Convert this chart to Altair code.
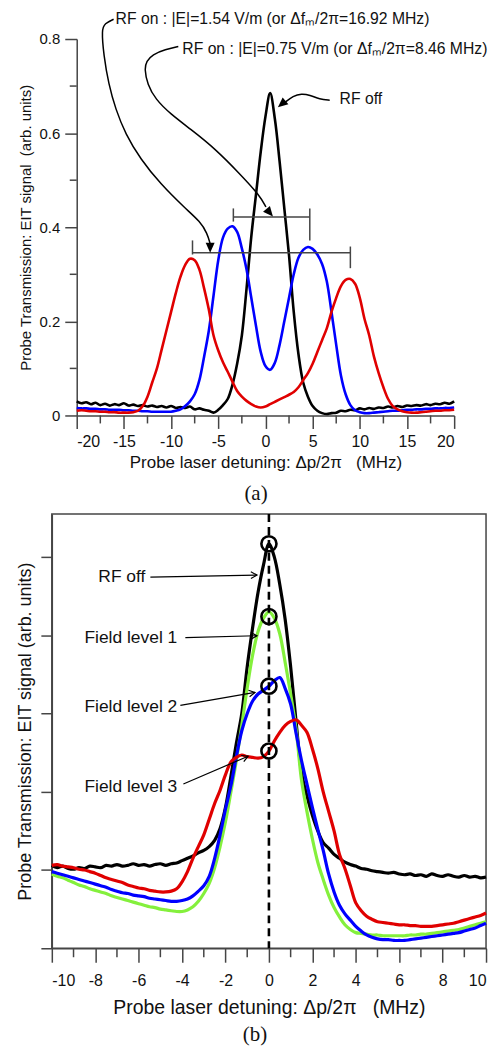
import altair as alt
import pandas as pd

# ---------------- Panel (a) data ----------------
XA = [-20, -19.5, -19, -18.5, -18, -17.5, -17, -16.5, -16, -15.5,
      -15, -14.5, -14, -13.5, -13, -12.5, -12, -11.5, -11, -10.5,
      -10, -9.5, -9, -8.5, -8, -7.5, -7, -6.5, -6, -5.5,
      -5, -4.5, -4, -3.5, -3, -2.5, -2, -1.5, -1, -0.5,
      0, 0.5, 1, 1.5, 2, 2.5, 3, 3.5, 4, 4.5,
      5, 5.5, 6, 6.5, 7, 7.5, 8, 8.5, 9, 9.5,
      10, 10.5, 11, 11.5, 12, 12.5, 13, 13.5, 14, 14.5,
      15, 15.5, 16, 16.5, 17, 17.5, 18, 18.5, 19, 19.5,
      20]

A_RF_OFF = [0.030, 0.026, 0.028, 0.024, 0.027, 0.022, 0.025, 0.021, 0.024, 0.022,
            0.026, 0.021, 0.023, 0.020, 0.022, 0.019, 0.021, 0.018, 0.020, 0.017,
            0.020, 0.016, 0.018, 0.016, 0.019, 0.013, 0.015, 0.012, 0.010, 0.006,
            0.012, 0.022, 0.035, 0.065, 0.110, 0.170, 0.270, 0.380, 0.470, 0.560,
            0.635, 0.685, 0.630, 0.540, 0.440, 0.340, 0.220, 0.130, 0.070, 0.040,
            0.020, 0.010, 0.005, 0.003, 0.005, 0.006, 0.010, 0.009, 0.012, 0.011,
            0.015, 0.013, 0.016, 0.014, 0.017, 0.016, 0.019, 0.017, 0.020, 0.018,
            0.021, 0.020, 0.022, 0.021, 0.024, 0.022, 0.025, 0.024, 0.027, 0.025,
            0.030]

A_E075 = [0.016, 0.015, 0.015, 0.014, 0.014, 0.013, 0.013, 0.012, 0.012, 0.012,
          0.011, 0.011, 0.010, 0.010, 0.009, 0.009, 0.008, 0.008, 0.008, 0.008,
          0.008, 0.010, 0.013, 0.020, 0.030, 0.045, 0.075, 0.125, 0.180, 0.255,
          0.330, 0.378, 0.397, 0.402, 0.390, 0.355, 0.310, 0.250, 0.190, 0.135,
          0.105, 0.097, 0.112, 0.150, 0.200, 0.250, 0.300, 0.335, 0.352, 0.358,
          0.354, 0.342, 0.322, 0.285, 0.220, 0.150, 0.085, 0.045, 0.022, 0.011,
          0.007, 0.005, 0.005, 0.006, 0.007, 0.008, 0.009, 0.010, 0.010, 0.011,
          0.012, 0.012, 0.013, 0.013, 0.014, 0.014, 0.015, 0.015, 0.016, 0.016,
          0.017]

A_E154 = [0.010, 0.011, 0.010, 0.009, 0.009, 0.008, 0.008, 0.007, 0.007, 0.006,
          0.006, 0.006, 0.007, 0.010, 0.020, 0.040, 0.070, 0.100, 0.140, 0.180,
          0.220, 0.260, 0.295, 0.320, 0.333, 0.330, 0.310, 0.270, 0.225, 0.170,
          0.138, 0.113, 0.093, 0.072, 0.052, 0.040, 0.031, 0.024, 0.019, 0.017,
          0.019, 0.024, 0.029, 0.034, 0.039, 0.044, 0.050, 0.060, 0.075, 0.090,
          0.110, 0.135, 0.160, 0.185, 0.220, 0.250, 0.275, 0.288, 0.290, 0.280,
          0.250, 0.205, 0.170, 0.125, 0.090, 0.060, 0.035, 0.020, 0.013, 0.009,
          0.007, 0.006, 0.006, 0.007, 0.008, 0.009, 0.010, 0.010, 0.011, 0.011,
          0.012]

A_XTICKS = [-20, -15, -10, -5, 0, 5, 10, 15, 20]
A_XMINOR = [-17.5, -12.5, -7.5, -2.5, 2.5, 7.5, 12.5, 17.5]
A_YTICKS = [0, 0.2, 0.4, 0.6, 0.8]
A_YMINOR = [0.1, 0.3, 0.5, 0.7]

# annotations of panel (a)
A_TEXTS = ["RF on : |E|=1.54 V/m (or \u0394f\u2098/2\u03c0=16.92 MHz)",
           "RF on : |E|=0.75 V/m (or \u0394f\u2098/2\u03c0=8.46 MHz)",
           "RF off"]
A_TEXT_X = [-15.88, -8.81, 7.86]
A_TEXT_Y = [0.842, 0.778, 0.672]

ARROW1_X = [-16.09, -17.04, -17.36, -17.15, -16.62, -15.88, -14.83, -13.25, -11.13, -8.50, -6.91, -6.17, -5.86]
ARROW1_Y = [0.842, 0.833, 0.820, 0.767, 0.704, 0.651, 0.598, 0.545, 0.492, 0.440, 0.412, 0.387, 0.365]
ARROW2_X = [-9.235, -10.61, -11.98, -12.61, -12.82, -12.51, -11.66, -10.08, -7.97, -5.33, -2.69, -0.58, 0.05]
ARROW2_Y = [0.784, 0.778, 0.767, 0.753, 0.736, 0.704, 0.672, 0.641, 0.609, 0.567, 0.513, 0.467, 0.443]
ARROW3_X = [6.81, 5.75, 4.70, 3.82, 2.93, 2.06]
ARROW3_Y = [0.670, 0.672, 0.681, 0.684, 0.679, 0.665]
A_HEAD_X = [-5.86, 0.79, 1.32]
A_HEAD_Y = [0.346, 0.423, 0.655]
A_HEAD_ANGLE = [90, 50, 140]

BRACKET_H_X1 = [-3.4, -7.73]
BRACKET_H_X2 = [4.7, 9.0]
BRACKET_H_Y = [0.422, 0.346]
BRACKET_V_X = [-3.4, 4.7, -7.73, 9.0]
BRACKET_V_Y1 = [0.440, 0.440, 0.372, 0.359]
BRACKET_V_Y2 = [0.412, 0.372, 0.342, 0.313]

# ---------------- Panel (b) data ----------------
XB = [-10, -9.75, -9.5, -9.25, -9, -8.75, -8.5, -8.25,
      -8, -7.75, -7.5, -7.25, -7, -6.75, -6.5, -6.25,
      -6, -5.75, -5.5, -5.25, -5, -4.75, -4.5, -4.25,
      -4, -3.75, -3.5, -3.25, -3, -2.75, -2.5, -2.25,
      -2, -1.75, -1.5, -1.25, -1, -0.75, -0.5, -0.25,
      0, 0.25, 0.5, 0.75, 1, 1.25, 1.5, 1.75,
      2, 2.25, 2.5, 2.75, 3, 3.25, 3.5, 3.75,
      4, 4.25, 4.5, 4.75, 5, 5.25, 5.5, 5.75,
      6, 6.25, 6.5, 6.75, 7, 7.25, 7.5, 7.75,
      8, 8.25, 8.5, 8.75, 9, 9.25, 9.5, 9.75,
      10]

B_RF_OFF = [1.06, 1.03, 1.05, 1.02, 1.01, 1.03, 1.02, 1.05,
            1.04, 1.03, 1.06, 1.05, 1.07, 1.05, 1.06, 1.08,
            1.06, 1.07, 1.05, 1.07, 1.08, 1.06, 1.08, 1.09,
            1.12, 1.15, 1.18, 1.22, 1.25, 1.30, 1.38, 1.53,
            1.80, 2.20, 2.62, 3.00, 3.60, 4.10, 4.55, 4.90,
            5.17, 5.00, 4.65, 4.20, 3.60, 2.90, 2.25, 1.95,
            1.70, 1.50, 1.35, 1.28, 1.20, 1.15, 1.10, 1.07,
            1.05, 1.02, 1.01, 0.99, 0.98, 0.97, 0.96, 0.97,
            0.95, 0.94, 0.95, 0.93, 0.94, 0.92, 0.95, 0.93,
            0.92, 0.94, 0.92, 0.91, 0.93, 0.91, 0.92, 0.90,
            0.91]

B_LEVEL1 = [0.95, 0.92, 0.90, 0.87, 0.84, 0.81, 0.79, 0.76,
            0.74, 0.72, 0.70, 0.67, 0.65, 0.63, 0.61, 0.59,
            0.57, 0.55, 0.53, 0.52, 0.50, 0.49, 0.48, 0.47,
            0.47, 0.49, 0.53, 0.60, 0.70, 0.83, 1.03, 1.30,
            1.62, 2.00, 2.40, 2.85, 3.33, 3.75, 4.05, 4.22,
            4.30, 4.22, 4.02, 3.65, 3.25, 2.80, 2.15, 1.75,
            1.40, 1.10, 0.88, 0.68, 0.52, 0.40, 0.30, 0.24,
            0.20, 0.19, 0.18, 0.17, 0.17, 0.16, 0.16, 0.16,
            0.16, 0.16, 0.17, 0.17, 0.18, 0.18, 0.19, 0.20,
            0.21, 0.22, 0.23, 0.24, 0.26, 0.28, 0.30, 0.32,
            0.34]

B_LEVEL2 = [0.98, 0.96, 0.94, 0.92, 0.90, 0.88, 0.86, 0.84,
            0.82, 0.80, 0.78, 0.75, 0.73, 0.71, 0.70, 0.68,
            0.67, 0.66, 0.64, 0.63, 0.62, 0.61, 0.60, 0.60,
            0.61, 0.63, 0.67, 0.73, 0.80, 0.92, 1.15, 1.45,
            1.78, 2.08, 2.45, 2.78, 3.00, 3.16, 3.25, 3.30,
            3.35, 3.42, 3.46, 3.32, 3.12, 2.75, 2.40, 2.10,
            1.80, 1.52, 1.25, 0.95, 0.72, 0.55, 0.44, 0.36,
            0.28, 0.22, 0.17, 0.14, 0.12, 0.11, 0.11, 0.10,
            0.10, 0.10, 0.11, 0.12, 0.13, 0.14, 0.15, 0.16,
            0.17, 0.18, 0.19, 0.20, 0.22, 0.24, 0.26, 0.29,
            0.32]

B_LEVEL3 = [1.06, 1.07, 1.05, 1.04, 1.03, 1.01, 1.00, 0.98,
            0.96, 0.93, 0.90, 0.88, 0.86, 0.84, 0.81, 0.79,
            0.77, 0.76, 0.74, 0.73, 0.72, 0.72, 0.73, 0.76,
            0.85, 0.98, 1.15, 1.30, 1.45, 1.65, 1.85, 2.02,
            2.22, 2.38, 2.44, 2.47, 2.45, 2.44, 2.43, 2.45,
            2.52, 2.65, 2.76, 2.85, 2.90, 2.92, 2.85, 2.76,
            2.55, 2.30, 2.00, 1.75, 1.50, 1.20, 1.02, 0.80,
            0.58, 0.48, 0.41, 0.37, 0.34, 0.33, 0.32, 0.31,
            0.30, 0.30, 0.29, 0.29, 0.28, 0.28, 0.28, 0.29,
            0.30, 0.31, 0.32, 0.34, 0.36, 0.38, 0.40, 0.42,
            0.45]

B_XTICKS = [-10, -8, -6, -4, -2, 0, 2, 4, 6, 8, 10]
B_XMINOR = [-9, -7, -5, -3, -1, 1, 3, 5, 7, 9]
B_YTICKS = [0, 1, 2, 3, 4, 5]

B_TEXTS = ["RF off", "Field level 1", "Field level 2", "Field level 3"]
B_TEXT_X = [-5.69, -4.22, -4.22, -4.22]
B_TEXT_Y = [4.745, 3.97, 3.08, 2.06]
B_CIRCLE_Y = [5.17, 4.24, 3.35, 2.52]
B_ARROW_X0 = [-5.46, -3.85, -4.08, -3.94]
B_ARROW_Y0 = [4.745, 3.97, 3.104, 2.10]
B_ARROW_X1 = [-0.55, -0.55, -0.64, -0.96]
B_ARROW_Y1 = [4.77, 3.995, 3.27, 2.455]
B_HEAD_ANGLE = [359, 358, 350, 337]

# ---------------- styling ----------------
W_A, H_A = 404, 378
A_LEFT = 25
W_B, H_B = 436, 436
AX = "#454545"
SANS = "Liberation Sans"
SERIF = "Liberation Serif"
RED = "#e00000"
BLUE = "#0000ff"
GREEN = "#84f03c"
TRI = "M0,0L-1,-0.45L-1,0.45Z"
CHEV = "M-1,-0.55L0,0L-1,0.55"
GAP = "\u00a0\u00a0\u00a0"
XTITLE = "Probe laser detuning: \u0394p/2\u03c0" + GAP + "(MHz)"


def axis_common():
    return dict(grid=False, domainColor=AX, tickColor=AX, domainWidth=1.5, tickWidth=1.5,
                labelColor="#111", titleColor="#111", labelFont=SANS, titleFont=SANS,
                titleFontWeight="normal")


# ---------------- Panel (a) ----------------
xa = alt.X("x:Q", scale=alt.Scale(domain=[-20, 20], range=[A_LEFT, W_A], nice=False, zero=False),
           axis=alt.Axis(values=A_XTICKS, labelExpr="datum.value + ''", labelFontSize=16,
                         title=XTITLE, titleFontSize=17,
                         tickSize=13, labelPadding=5, titlePadding=5, **axis_common()))
ya = alt.Y("y:Q", scale=alt.Scale(domain=[0, 0.8], nice=False, zero=False),
           axis=alt.Axis(values=A_YTICKS, labelExpr="datum.value + ''", offset=-A_LEFT, labelFontSize=15,
                         title="Probe Transmission: EIT signal\u00a0\u00a0(arb. units)", titleFontSize=15,
                         tickSize=12, labelPadding=5, titlePadding=6, **axis_common()))

LINE_A = dict(strokeWidth=2.6, interpolate="catmull-rom")
a_black = alt.Chart(pd.DataFrame({"x": XA, "y": A_RF_OFF})).mark_line(color="black", **LINE_A).encode(x=xa, y=ya)
a_blue = alt.Chart(pd.DataFrame({"x": XA, "y": A_E075})).mark_line(color=BLUE, **LINE_A).encode(x="x:Q", y="y:Q")
a_red = alt.Chart(pd.DataFrame({"x": XA, "y": A_E154})).mark_line(color=RED, **LINE_A).encode(x="x:Q", y="y:Q")

a_minor_x = alt.Chart(pd.DataFrame({"x": A_XMINOR})).mark_rule(color=AX, strokeWidth=1.5).encode(
    x="x:Q", y=alt.value(H_A), y2=alt.value(H_A + 8))
a_minor_y = alt.Chart(pd.DataFrame({"y": A_YMINOR})).mark_rule(color=AX, strokeWidth=1.5).encode(
    y="y:Q", x=alt.value(A_LEFT), x2=alt.value(A_LEFT - 7))

arrows_a = pd.DataFrame({
    "x": ARROW1_X + ARROW2_X + ARROW3_X,
    "y": ARROW1_Y + ARROW2_Y + ARROW3_Y,
    "id": ["a1"] * len(ARROW1_X) + ["a2"] * len(ARROW2_X) + ["a3"] * len(ARROW3_X),
    "o": list(range(len(ARROW1_X))) + list(range(len(ARROW2_X))) + list(range(len(ARROW3_X))),
})
a_arrows = alt.Chart(arrows_a).mark_line(color="black", strokeWidth=1.5, interpolate="basis").encode(
    x="x:Q", y="y:Q", detail="id:N", order="o:Q")
a_heads = alt.Chart(pd.DataFrame({"x": A_HEAD_X, "y": A_HEAD_Y, "ang": A_HEAD_ANGLE})).mark_point(
    shape=TRI, filled=True, color="black", size=400, opacity=1).encode(
    x="x:Q", y="y:Q", angle=alt.Angle("ang:Q", scale=None))

a_bh = alt.Chart(pd.DataFrame({"x": BRACKET_H_X1, "x2": BRACKET_H_X2, "y": BRACKET_H_Y})).mark_rule(
    color=AX, strokeWidth=1.5).encode(x="x:Q", x2="x2:Q", y="y:Q")
a_bv = alt.Chart(pd.DataFrame({"x": BRACKET_V_X, "y": BRACKET_V_Y1, "y2": BRACKET_V_Y2})).mark_rule(
    color=AX, strokeWidth=1.5).encode(x="x:Q", y="y:Q", y2="y2:Q")

a_text = alt.Chart(pd.DataFrame({"x": A_TEXT_X, "y": A_TEXT_Y, "t": A_TEXTS})).mark_text(
    align="left", baseline="middle", font=SANS, fontSize=15.8, color="#111").encode(x="x:Q", y="y:Q", text="t:N")
a_tag = alt.Chart(pd.DataFrame({"x": [-1.0], "y": [-0.168], "t": ["(a)"]})).mark_text(
    align="center", baseline="middle", font=SERIF, fontSize=21, color="#111").encode(x="x:Q", y="y:Q", text="t:N")

panel_a = alt.layer(a_black, a_blue, a_red, a_minor_x, a_minor_y, a_bh, a_bv, a_arrows, a_heads,
                    a_text, a_tag).properties(
    width=W_A, height=H_A, view=alt.ViewBackground(stroke="transparent"))

# ---------------- Panel (b) ----------------
xb = alt.X("x:Q", scale=alt.Scale(domain=[-10, 10], nice=False, zero=False),
           axis=alt.Axis(values=B_XTICKS, labelExpr="datum.value + ''", labelFontSize=16,
                         title=XTITLE, titleFontSize=19.5,
                         tickSize=14, labelPadding=10, titlePadding=10, **axis_common()))
yb = alt.Y("y:Q", scale=alt.Scale(domain=[0, 5.55], nice=False, zero=False),
           axis=alt.Axis(values=B_YTICKS, labels=False, title="Probe Transmission: EIT signal (arb. units)",
                         titleFontSize=18, tickSize=11, titlePadding=6, **axis_common()))

LINE_B = dict(strokeWidth=3.2, interpolate="catmull-rom")
b_black = alt.Chart(pd.DataFrame({"x": XB, "y": B_RF_OFF})).mark_line(color="black", **LINE_B).encode(x=xb, y=yb)
b_green = alt.Chart(pd.DataFrame({"x": XB, "y": B_LEVEL1})).mark_line(color=GREEN, **LINE_B).encode(x="x:Q", y="y:Q")
b_blue = alt.Chart(pd.DataFrame({"x": XB, "y": B_LEVEL2})).mark_line(color=BLUE, **LINE_B).encode(x="x:Q", y="y:Q")
b_red = alt.Chart(pd.DataFrame({"x": XB, "y": B_LEVEL3})).mark_line(color=RED, **LINE_B).encode(x="x:Q", y="y:Q")

b_minor_x = alt.Chart(pd.DataFrame({"x": B_XMINOR})).mark_rule(color=AX, strokeWidth=1.5).encode(
    x="x:Q", y=alt.value(H_B), y2=alt.value(H_B + 9))
b_dash = alt.Chart(pd.DataFrame({"x": [0]})).mark_rule(color="black", strokeWidth=2.6, strokeDash=[8, 5]).encode(x="x:Q")
b_circles = alt.Chart(pd.DataFrame({"x": [0, 0, 0, 0], "y": B_CIRCLE_Y})).mark_point(
    shape="circle", filled=False, color="black", size=230, strokeWidth=2.6, opacity=1).encode(x="x:Q", y="y:Q")
b_text = alt.Chart(pd.DataFrame({"x": B_TEXT_X, "y": B_TEXT_Y, "t": B_TEXTS})).mark_text(
    align="right", baseline="middle", font=SANS, fontSize=17.5, color="#111").encode(x="x:Q", y="y:Q", text="t:N")
b_arrows = alt.Chart(pd.DataFrame({"x": B_ARROW_X0, "y": B_ARROW_Y0, "x2": B_ARROW_X1, "y2": B_ARROW_Y1})).mark_rule(
    color="black", strokeWidth=1.2).encode(x="x:Q", y="y:Q", x2="x2:Q", y2="y2:Q")
b_heads = alt.Chart(pd.DataFrame({"x": B_ARROW_X1, "y": B_ARROW_Y1, "ang": B_HEAD_ANGLE})).mark_point(
    shape=CHEV, filled=False, color="black", size=150, strokeWidth=1.2, opacity=1).encode(
    x="x:Q", y="y:Q", angle=alt.Angle("ang:Q", scale=None))
b_tag = alt.Chart(pd.DataFrame({"x": [-0.64], "y": [-1.107], "t": ["(b)"]})).mark_text(
    align="center", baseline="middle", font=SERIF, fontSize=21, color="#111").encode(x="x:Q", y="y:Q", text="t:N")

panel_b = alt.layer(b_black, b_green, b_blue, b_red, b_minor_x, b_dash, b_circles, b_text, b_arrows,
                    b_heads, b_tag).properties(
    width=W_B, height=H_B, view=alt.ViewBackground(stroke=AX, strokeWidth=1.5))

chart = alt.vconcat(panel_a, panel_b, spacing=6).properties(
    padding={"left": 7, "top": 0, "right": 0, "bottom": 0}
).configure(font=SANS, background="white")

chart.save("out.html", embed_options={"renderer": "svg", "actions": False})
